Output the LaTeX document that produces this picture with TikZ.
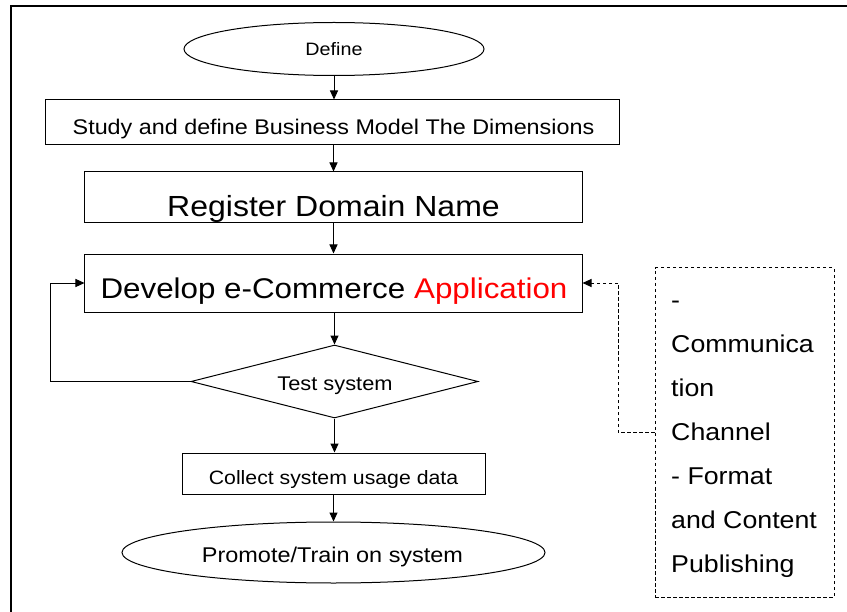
\documentclass[tikz,border=0pt]{standalone}
\usepackage{fontspec}
\setmainfont[FakeStretch=1.1]{Liberation Sans}
\usetikzlibrary{shapes.geometric,arrows.meta}
\begin{document}
\begin{tikzpicture}[x=1bp,y=-1bp,
  shapeline/.style={draw=black,line width=1bp,inner sep=0pt},
  boxshape/.style={shapeline,rectangle},
  ellshape/.style={shapeline,ellipse},
  diashape/.style={shapeline,diamond},
  notebox/.style={draw=black,line width=1bp,dash pattern=on 3.5bp off 2.5bp,inner sep=0pt,rectangle},
  txt/.style={anchor=base,inner sep=0pt},
  arr/.style={draw=black,line width=1bp,-{Triangle[length=9bp,width=8bp]}},
  dasharr/.style={arr,dash pattern=on 3.5bp off 2.5bp},
  frameline/.style={draw=black,line width=1.4bp}]
\useasboundingbox (0,0) rectangle (847,612);
% frame (only top and left edges visible)
\draw[frameline] (11,612) -- (11,6) -- (847,6);
% shapes
\node[ellshape,minimum width=300bp,minimum height=53bp] (def) at (334,49) {};
\node[boxshape,minimum width=573bp,minimum height=45bp] (study) at (332.5,122.5) {};
\node[boxshape,minimum width=497bp,minimum height=50bp] (reg) at (333.5,197) {};
\node[boxshape,minimum width=497bp,minimum height=58bp] (dev) at (333.5,283) {};
\node[diashape,minimum width=287bp,minimum height=73bp] (test) at (334.5,381.5) {};
\node[boxshape,minimum width=303bp,minimum height=41bp] (coll) at (333.5,473.5) {};
\node[ellshape,minimum width=423bp,minimum height=61bp] (prom) at (333.5,552.5) {};
\node[notebox,minimum width=179bp,minimum height=329bp] (note) at (744.5,432.5) {};
% texts
\node[txt] (tdef) at (334,55.5) {\fontsize{18}{20}\selectfont Define};
\node[txt] (tstudy) at (333.5,135) {\fontsize{21.3}{24}\selectfont Study and define Business Model The Dimensions};
\begin{scope}
\clip (reg.north west) rectangle (reg.south east);
\node[txt] (treg) at (333.5,217) {\fontsize{29.2}{32}\selectfont Register Domain Name};
\end{scope}
\node[txt] (tdev) at (334,298) {\fontsize{28.6}{32}\selectfont Develop e-Commerce \textcolor{red}{Application}};
\node[txt] (ttest) at (335,390) {\fontsize{19.9}{22}\selectfont Test system};
\node[txt] (tcoll) at (333.5,484) {\fontsize{19.4}{22}\selectfont Collect system usage data};
\node[txt] (tprom) at (332.5,562) {\fontsize{21.4}{24}\selectfont Promote/Train on system};
\foreach \t [count=\i from 0] in {-,Communica,tion,Channel,- Format,and Content,Publishing}
  \node[anchor=base west,inner sep=0pt] (nl\i) at (671,308+44*\i) {\fontsize{24.4}{28}\selectfont \t};
% connectors
\draw[arr] (def.south) -- (def.south |- study.north);
\draw[arr] (reg.north |- study.south) -- (reg.north);
\draw[arr] (reg.south) -- (reg.south |- dev.north);
\draw[arr] (test.north |- dev.south) -- (test.north);
\draw[arr] (test.south) -- (test.south |- coll.north);
\draw[arr] (coll.south) -- (coll.south |- prom.north);
\coordinate (lp) at (50,381.5);
\draw[arr] (test.west) -- (lp) |- (dev.west);
\coordinate (dc) at (618,432.5);
\draw[dasharr] (note.west) -- (dc) |- (dev.east);
\end{tikzpicture}
\end{document}
